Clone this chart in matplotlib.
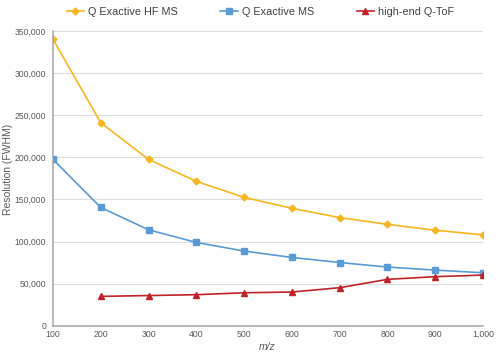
import numpy as np
import matplotlib.pyplot as plt
from matplotlib.ticker import FuncFormatter

plt.rcParams['font.family'] = ['Liberation Sans', 'DejaVu Sans']

##-----     DATA     -----
mz       = [100, 200, 300, 400, 500, 600, 700, 800, 900, 1000]
mz_qtof  = [200, 300, 400, 500, 600, 700, 800, 900, 1000]
res_hf   = [340000, 241000, 197500, 171500, 152500, 139500, 128500, 120500, 113500, 108000]
res_qe   = [197500, 140500, 114000, 99000, 88800, 81200, 75200, 69800, 66200, 63000]
res_qtof = [35000, 36000, 37000, 39300, 40200, 45300, 55200, 58400, 60300]

names  = ['Q Exactive HF MS', 'Q Exactive MS', 'high-end Q-ToF']
colors = ['#F5B721', '#5B9BD5', '#C0232A']
txt    = '#595959'

##-----     PLOT     -----
fig = plt.figure(figsize=(5.0, 3.55), dpi=100)
ax = fig.add_axes([0.106, 0.082, 0.86, 0.831])

ax.plot(mz, res_hf, '-D', color=colors[0], lw=1.2, markersize=3.5, label=names[0])
ax.plot(mz, res_qe, '-s', color=colors[1], lw=1.2, markersize=4.5, label=names[1])
ax.plot(mz_qtof, res_qtof, '-^', color=colors[2], lw=1.2, markersize=4.5, label=names[2])

ax.set_xlim(100, 1000)
ax.set_ylim(0, 350000)
ax.set_xticks(mz)
ax.set_yticks(np.arange(0, 350001, 50000))
fmt = FuncFormatter(lambda v, p: '{:,.0f}'.format(v))
ax.xaxis.set_major_formatter(fmt)
ax.yaxis.set_major_formatter(fmt)
ax.tick_params(length=0, colors=txt)
ax.tick_params(axis='x', labelsize=6.3, pad=3)
ax.tick_params(axis='y', labelsize=6.2, pad=5)
ax.grid(axis='y', color='#dcdcdc', lw=0.8)
ax.set_axisbelow(True)
for s in ['top', 'right']:
    ax.spines[s].set_visible(False)
for s in ['left', 'bottom']:
    ax.spines[s].set_color('#a6a6a6')
    ax.spines[s].set_linewidth(1.1)

ax.set_xlabel('m/z', fontsize=7.5, color=txt, style='italic')
ax.xaxis.set_label_coords(0.498, -0.055)
ax.set_ylabel('Resolution (FWHM)', fontsize=7.5, color=txt)
ax.yaxis.set_label_coords(-0.092, 0.53)

leg = fig.legend(loc='center', bbox_to_anchor=(0.521, 0.966), ncol=3, frameon=False,
                 fontsize=7.8, handlelength=1.6, handletextpad=0.4, columnspacing=3.9)
for t in leg.get_texts():
    t.set_color('#404040')

fig.savefig('out.png', dpi=100)
